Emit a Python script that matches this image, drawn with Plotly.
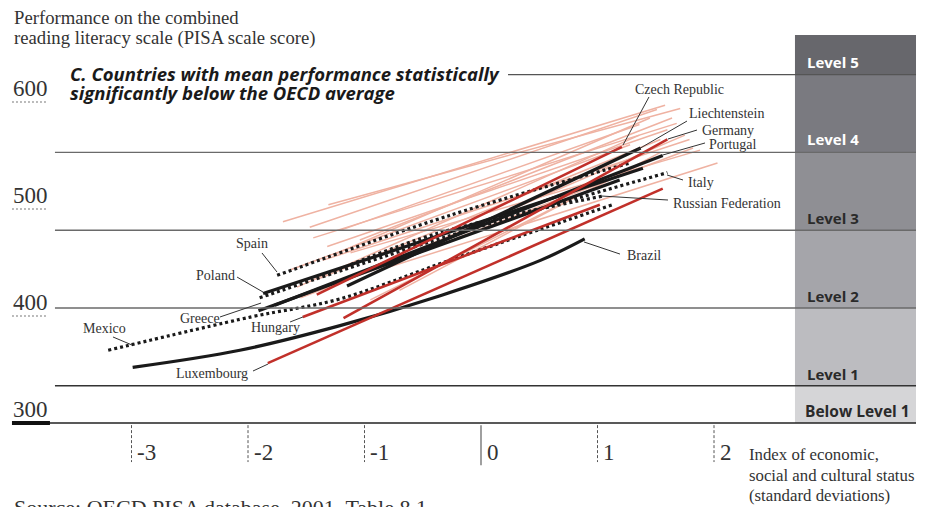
import plotly.graph_objects as go

# ---------------- data ----------------
# highlighted countries: ESCS index (x) and reading score (y) along each gradient line
countries = ["Brazil", "Mexico", "Luxembourg", "Hungary", "Spain", "Poland", "Greece",
             "Italy", "Russian Federation", "Liechtenstein", "Portugal",
             "Czech Republic", "Germany"]
line_x = {
    "Brazil": [-2.99, -2.07, -1.21, -0.35, 0.51, 0.89],
    "Mexico": [-3.20, -1.98, -1.21, -0.27, 1.13],
    "Luxembourg": [-1.83, 1.56],
    "Hungary": [-1.53, 1.02],
    "Spain": [-1.75, -0.27, 1.28],
    "Poland": [-1.87, 1.39],
    "Greece": [-1.91, 1.19],
    "Italy": [-1.90, -0.27, 1.60],
    "Russian Federation": [-1.12, -0.35, 1.04],
    "Liechtenstein": [-1.15, 1.37],
    "Portugal": [-1.77, 1.56],
    "Czech Republic": [-1.41, 1.21],
    "Germany": [-1.18, 1.60],
}
line_y = {
    "Brazil": [352, 368, 391, 419, 452, 472],
    "Mexico": [368, 399, 416, 452, 504],
    "Luxembourg": [356, 519],
    "Hungary": [399, 504],
    "Spain": [438, 494, 543],
    "Poland": [421, 538],
    "Greece": [405, 527],
    "Italy": [417, 475, 534],
    "Russian Federation": [448, 478, 512],
    "Liechtenstein": [428, 557],
    "Portugal": [410, 550],
    "Czech Republic": [420, 558],
    "Germany": [398, 565],
}
line_style = {
    "Brazil": "solid", "Mexico": "dotted", "Luxembourg": "red", "Hungary": "red",
    "Spain": "dotted", "Poland": "solid", "Greece": "solid", "Italy": "dotted",
    "Russian Federation": "dotted", "Liechtenstein": "solid", "Portugal": "solid",
    "Czech Republic": "red", "Germany": "red",
}
# other OECD countries (faded background lines): start and end points
other_x0 = [-1.70, -1.31, -1.47, -1.44, -1.32, -1.27, -1.36, -0.87, -1.58,
            -1.55, -1.41, -1.12, -1.04, -0.78, -0.70, -1.21, -1.64, -0.95]
other_x1 = [1.58, 1.71, 1.51, 1.68, 1.60, 1.45, 1.79, 2.03, 1.36,
            1.82, 1.54, 1.88, 1.64, 1.75, 1.54, 1.36, 1.28, 1.45]
other_y0 = [488, 504, 483, 473, 465, 457, 452, 443, 427,
            417, 434, 459, 471, 451, 424, 480, 443, 415]
other_y1 = [597, 594, 593, 580, 574, 585, 565, 543, 569,
            557, 565, 555, 585, 569, 553, 579, 560, 546]

# proficiency level boundaries
level_bounds = [300, 334.75, 407.47, 480.18, 552.89, 625.61, 662.6]
level_names = ["Below Level 1", "Level 1", "Level 2", "Level 3", "Level 4", "Level 5"]
level_colors = ["#d5d5d7", "#bcbcc0", "#a5a5aa", "#8f8f94", "#7a7a80", "#67676c"]
level_text_colors = ["#2a2a2a", "#2a2a2a", "#2a2a2a", "#2a2a2a", "#ffffff", "#ffffff"]
level_label_y = [311, 346, 419, 492, 565, 637]

y_ticks = [600, 500, 400, 300]
x_ticks = [-3, -2, -1, 0, 1, 2]
x_tick_labels = ["-3", "-2", "-1", "0", "1", "2"]

# country label positions (text x, text y, anchor, leader start, leader end)
labels = [
    ("Czech Republic", 1.708, 612.1, "center", (1.442, 604.7), (1.219, 559.8)),
    ("Liechtenstein", 2.103, 588.8, "center", (1.768, 582.2), (1.339, 555.1)),
    ("Germany", 1.880, 573.8, "left", (1.854, 573.8), (1.605, 565.4)),
    ("Portugal", 1.940, 560.7, "left", (1.923, 561.7), (1.562, 550.5)),
    ("Italy", 1.760, 525.2, "left", (1.734, 527.1), (1.597, 531.8)),
    ("Russian Federation", 1.631, 504.7, "left", (1.605, 508.4), (1.039, 512.1)),
    ("Brazil", 1.236, 456.1, "left", (1.193, 457.9), (0.884, 469.2)),
    ("Spain", -1.966, 468.2, "center", (-1.880, 458.9), (-1.751, 441.1)),
    ("Poland", -2.275, 438.3, "center", (-2.094, 436.4), (-1.871, 422.4)),
    ("Greece", -2.412, 398.1, "center", (-2.240, 399.1), (-1.888, 412.1)),
    ("Hungary", -1.768, 388.8, "center", (-1.639, 394.4), (-1.528, 399.1)),
    ("Mexico", -3.236, 387.9, "center", (-3.159, 380.4), (-2.996, 372.9)),
    ("Luxembourg", -2.309, 346.7, "center", (-1.957, 348.6), (-1.828, 355.1)),
]

# ---------------- figure ----------------
# page body has an 8px margin: compensate so data land on the intended screen pixels
OFF = 8
XR = [(OFF - 481) / 116.5, (926 + OFF - 481) / 116.5]
YR = [300 - (507 + OFF - 423) / 1.07, 300 + (423 - OFF) / 1.07]
SERIF = "Liberation Serif"
SANS = "Open Sans"

fig = go.Figure()
shapes = []
ann = []

# level bands
for i, name in enumerate(level_names):
    shapes.append(dict(type="rect", xref="x", yref="y", x0=2.695, x1=3.734,
                       y0=level_bounds[i], y1=level_bounds[i + 1],
                       fillcolor=level_colors[i], line=dict(width=0), layer="below"))
    ann.append(dict(x=2.781 if i > 0 else 2.765, y=level_label_y[i], xref="x", yref="y",
                    text="<b>%s</b>" % name, showarrow=False, xanchor="left",
                    yanchor="middle",
                    font=dict(family=SANS, size=15.5 if i == 0 else 15,
                              color=level_text_colors[i])))

# horizontal level lines
for b in level_bounds[1:5]:
    shapes.append(dict(type="line", xref="x", yref="y", x0=-3.657, x1=3.734, y0=b, y1=b,
                       line=dict(color="#6a6a6a" if b > 340 else "#333333", width=1.4)))
shapes.append(dict(type="line", xref="x", yref="y", x0=0.232, x1=3.734,
                   y0=level_bounds[5], y1=level_bounds[5], line=dict(color="#555555", width=1.4)))
shapes.append(dict(type="line", xref="x", yref="y", x0=-3.71, x1=3.734, y0=300, y1=300,
                   line=dict(color="#222222", width=1.6)))

# y tick labels with underline
for v in y_ticks:
    ann.append(dict(x=-4.03, y=v, xref="x", yref="y", text=str(v), showarrow=False,
                    xanchor="left", yanchor="bottom", borderpad=0,
                    font=dict(family=SERIF, size=23, color="#333333")))
    if v == 300:
        shapes.append(dict(type="line", xref="x", yref="y", x0=-4.026, x1=-3.70,
                           y0=v, y1=v, line=dict(color="#111111", width=4)))
    else:
        shapes.append(dict(type="line", xref="x", yref="y", x0=-4.026, x1=-3.717,
                           y0=v, y1=v, line=dict(color="#777777", width=1.2, dash="2px,2px")))

# x ticks
for t, lab in zip(x_ticks, x_tick_labels):
    if t == 0:
        shapes.append(dict(type="line", xref="x", yref="y", x0=t, x1=t, y0=298, y1=260.5,
                           line=dict(color="#888888", width=1.6)))
    else:
        shapes.append(dict(type="line", xref="x", yref="y", x0=t, x1=t, y0=298, y1=263.5,
                           line=dict(color="#555555", width=1, dash="3px,2px")))
    ann.append(dict(x=t + 0.03, y=272, xref="x", yref="y", text=lab, showarrow=False,
                    xanchor="left", yanchor="middle",
                    font=dict(family=SERIF, size=23, color="#333333")))

# faded lines of other countries
for x0, x1, y0, y1 in zip(other_x0, other_x1, other_y0, other_y1):
    fig.add_trace(go.Scatter(x=[x0, x1], y=[y0, y1], mode="lines",
                             line=dict(color="#efb2a2", width=1.5),
                             hoverinfo="skip", showlegend=False))

# highlighted countries
order = ["Brazil", "Mexico", "Luxembourg", "Hungary", "Spain", "Italy", "Russian Federation",
         "Greece", "Poland", "Portugal", "Liechtenstein", "Czech Republic", "Germany"]
for c in order:
    st = line_style[c]
    if st == "solid":
        ln = dict(color="#1a1a1a", width=3.2, shape="spline")
    elif st == "red":
        ln = dict(color="#c1302a", width=2.6, shape="spline")
    else:
        ln = dict(color="#1a1a1a", width=3.2, dash="3px,3px", shape="spline")
    fig.add_trace(go.Scatter(x=line_x[c], y=line_y[c], mode="lines", line=ln,
                             name=c, showlegend=False))

# country labels + leaders
for name, lx, ly, anc, p0, p1 in labels:
    ann.append(dict(x=lx, y=ly, xref="x", yref="y", text=name, showarrow=False,
                    xanchor=anc, yanchor="middle",
                    font=dict(family=SERIF, size=14, color="#333333")))
    shapes.append(dict(type="line", xref="x", yref="y", x0=p0[0], y0=p0[1], x1=p1[0], y1=p1[1],
                       line=dict(color="#333333", width=1)))

# titles
ann.append(dict(x=-4.03, y=679.4, xref="x", yref="y", text="Performance on the combined",
                showarrow=False, xanchor="left", yanchor="middle",
                font=dict(family=SERIF, size=18.7, color="#333333")))
ann.append(dict(x=-4.03, y=659.8, xref="x", yref="y",
                text="reading literacy scale (PISA scale score)",
                showarrow=False, xanchor="left", yanchor="middle",
                font=dict(family=SERIF, size=18.7, color="#333333")))
ann.append(dict(x=-3.545, y=627.1, xref="x", yref="y",
                text="<b><i>C. Countries with mean performance statistically</i></b>",
                showarrow=False, xanchor="left", yanchor="middle",
                font=dict(family=SANS, size=18.5, color="#1a1a1a")))
ann.append(dict(x=-3.545, y=609.3, xref="x", yref="y",
                text="<b><i>significantly below the OECD average</i></b>",
                showarrow=False, xanchor="left", yanchor="middle",
                font=dict(family=SANS, size=18.5, color="#1a1a1a")))
for k, t in enumerate(["Index of economic,", "social and cultural status",
                       "(standard deviations)"]):
    ann.append(dict(x=2.284, y=270.5 - k * 19.3, xref="x", yref="y", text=t,
                    showarrow=False, xanchor="left", yanchor="middle", align="left",
                    font=dict(family=SERIF, size=16.8, color="#333333")))
ann.append(dict(x=-4.03, y=235, xref="x", yref="y",
                text="Source: OECD PISA database, 2001, Table 8.1.",
                showarrow=False, xanchor="left", yanchor="top", align="left",
                font=dict(family=SERIF, size=22, color="#333333")))

fig.update_layout(
    width=926, height=507, margin=dict(l=0, r=0, t=0, b=0),
    paper_bgcolor="white", plot_bgcolor="white",
    xaxis=dict(range=XR, visible=False, fixedrange=True),
    yaxis=dict(range=YR, visible=False, fixedrange=True),
    shapes=shapes, annotations=ann, showlegend=False,
)
fig.write_html("out.html")
